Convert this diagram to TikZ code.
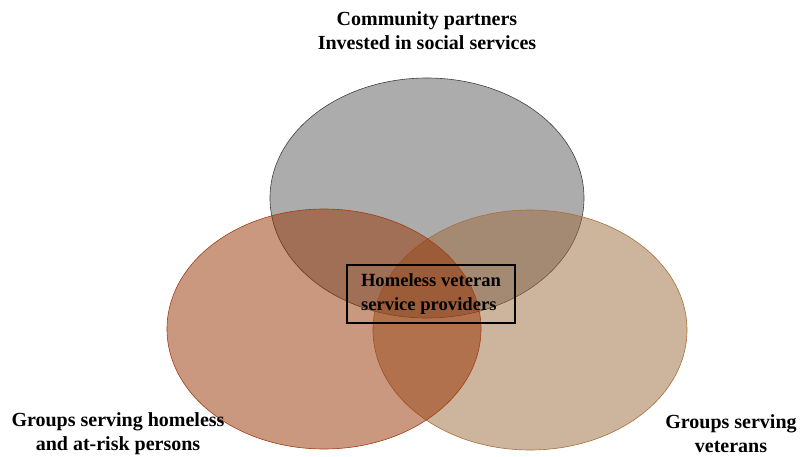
\documentclass[tikz,border=0pt]{standalone}
\usepackage{fontspec}
\setmainfont{Liberation Serif}
\usetikzlibrary{shapes.geometric}
\definecolor{partnerfill}{RGB}{90,90,90}
\definecolor{homefill}{RGB}{150,48,0}
\definecolor{homeline}{RGB}{160,62,20}
\definecolor{vetfill}{RGB}{156,106,58}
\definecolor{vetline}{RGB}{168,112,58}
\begin{document}
\begin{tikzpicture}[x=1pt,y=-1pt,
  group/.style={draw, ellipse, minimum width=314pt, minimum height=240pt, inner sep=0pt, fill opacity=0.5, line width=0.6pt},
  lbl/.style={font=\bfseries\fontsize{20}{24}\selectfont, align=center}]
\useasboundingbox (0,0) rectangle (801,456);
\node[group, fill=partnerfill, draw=black!75] (partners) at (427,198) {};
\node[group, fill=vetfill, draw=vetline] (veterans) at (530,330) {};
\node[group, fill=homefill, draw=homeline] (homeless) at (324,329) {};

\node[draw, line width=2.5pt, minimum width=168pt, minimum height=58pt, align=left,
  font=\bfseries\fontsize{18.6}{24}\selectfont] (providers) at (431,294) {Homeless veteran\\service providers};

\node[lbl] (partnerlbl) at (427,31) {Community partners\\Invested in social services};
\node[lbl] (homelesslbl) at (118,434) {Groups serving homeless\\and at-risk persons};
\node[lbl] (veteranlbl) at (731,434) {Groups serving\\veterans};
\end{tikzpicture}
\end{document}
